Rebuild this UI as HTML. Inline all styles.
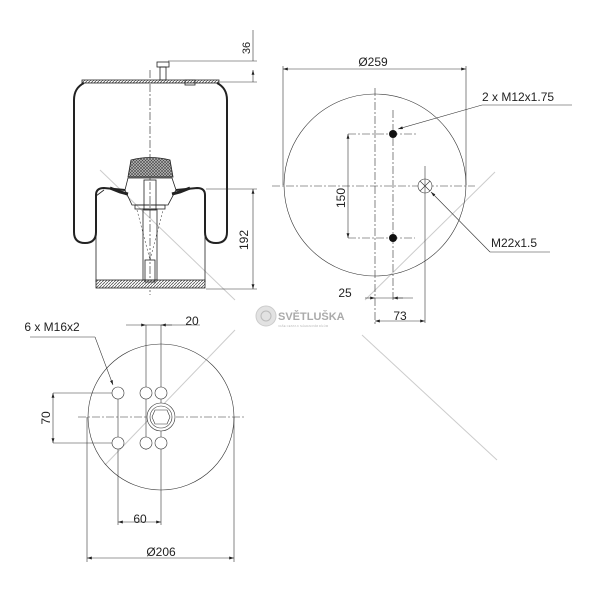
<!DOCTYPE html>
<html><head><meta charset="utf-8"><style>
html,body{margin:0;padding:0;background:#fff;}
svg{display:block;}
text{font-family:"Liberation Sans",sans-serif;fill:#222;}
</style></head><body>
<svg width="600" height="600" viewBox="0 0 600 600" xmlns="http://www.w3.org/2000/svg">
<defs>
<pattern id="h" width="3" height="3" patternUnits="userSpaceOnUse"><rect width="3" height="3" fill="#fff"/><path d="M0 3L3 0" stroke="#555" stroke-width="0.8"/></pattern>
<pattern id="x" width="3" height="3" patternUnits="userSpaceOnUse"><rect width="3" height="3" fill="#bbb"/><path d="M0 3L3 0M0 0L3 3" stroke="#444" stroke-width="0.6"/></pattern>
<marker id="a" viewBox="0 0 10 6" refX="10" refY="3" markerWidth="8" markerHeight="5" orient="auto-start-reverse"><path d="M0 0L10 3L0 6z" fill="#222"/></marker>
</defs>

<g stroke="#ccc" stroke-width="1">
<line x1="100" y1="170" x2="235" y2="300"/>
<line x1="495" y1="172" x2="365" y2="300"/>
<line x1="362" y1="335" x2="497" y2="460"/>
<line x1="235" y1="330" x2="105" y2="465"/>
</g>

<g stroke="#222" fill="none" stroke-width="0.8">
<line x1="150" y1="70" x2="150" y2="295" stroke-dasharray="8,2,2,2" stroke-width="0.6"/>
<rect x="82" y="80" width="137" height="3" fill="url(#h)"/>
<rect x="157" y="62" width="12" height="5" fill="#fff"/>
<rect x="160" y="67" width="6" height="13"/>
<rect x="185" y="80" width="10" height="5"/>
<path d="M84 83 Q74 88 74 100 L74 232 Q74 243 85 243 Q96 243 96 232 L96 195 Q96 188 104 188 L125 190" stroke-width="2"/>
<path d="M217 83 Q227 88 227 100 L227 232 Q227 243 216 243 Q205 243 205 232 L205 195 Q205 188 197 188 L176 190" stroke-width="2"/>
<path d="M104 190 L96 196 L96 282 M205 196 L205 282"/>
<rect x="96" y="280" width="109" height="8" fill="url(#h)"/>
<path d="M128 177 L131 160 Q150 155 170 160 L173 177 Z" fill="url(#x)"/>
<path d="M125 190 L128 178 L172 178 L176 190 L168 205 L132 205 Z"/>
<rect x="135" y="205" width="30" height="4"/>
<rect x="144" y="180" width="12" height="30"/>
<rect x="143" y="209" width="14" height="71"/>
<path d="M137 210 L150 260 L163 210" stroke-dasharray="2,2" stroke-width="0.5"/>
<rect x="145" y="260" width="10" height="22"/>
<path d="M110 188 L120 192 L128 194" stroke-width="3"/>
<path d="M190 188 L180 192 L172 194" stroke-width="3"/>
</g>
<g stroke="#333" stroke-width="0.6" fill="none">
<line x1="168" y1="61" x2="257" y2="61"/>
<line x1="220" y1="82" x2="257" y2="82"/>
<line x1="253" y1="30" x2="253" y2="61"/>
<line x1="253" y1="82" x2="253" y2="70" marker-end="url(#a)"/>
<line x1="206" y1="189" x2="257" y2="189"/>
<line x1="206" y1="289" x2="257" y2="289"/>
<line x1="253" y1="189" x2="253" y2="289" marker-start="url(#a)" marker-end="url(#a)"/>
</g>
<text x="0" y="0" font-size="11" transform="translate(253,48) rotate(-90)" text-anchor="middle" dy="-3">36</text>
<text x="0" y="0" font-size="12" transform="translate(251,240) rotate(-90)" text-anchor="middle" dy="-3">192</text>

<g stroke="#333" stroke-width="0.6" fill="none">
<circle cx="375" cy="185" r="91"/>
<line x1="283" y1="66" x2="283" y2="185"/>
<line x1="466" y1="66" x2="466" y2="185"/>
<line x1="283" y1="69" x2="466" y2="69" marker-start="url(#a)" marker-end="url(#a)"/>
<line x1="272" y1="186" x2="475" y2="186" stroke-dasharray="8,2,2,2"/>
<line x1="375" y1="88" x2="375" y2="325" stroke-dasharray="8,2,2,2"/>
<line x1="393" y1="110" x2="393" y2="300" stroke-dasharray="8,2,2,2"/>
<line x1="348" y1="134" x2="416" y2="134" stroke-dasharray="8,2,2,2"/>
<line x1="348" y1="238" x2="415" y2="238" stroke-dasharray="8,2,2,2"/>
<line x1="348" y1="134" x2="348" y2="238" marker-start="url(#a)" marker-end="url(#a)"/>
<circle cx="425" cy="186" r="7" fill="#fff"/>
<path d="M420 181 L430 191 M430 181 L420 191"/>
<line x1="425" y1="166" x2="425" y2="323"/>
<line x1="398" y1="129" x2="482" y2="105" marker-start="url(#a)"/>
<line x1="482" y1="105" x2="572" y2="105"/>
<line x1="431" y1="192" x2="490" y2="252" marker-start="url(#a)"/>
<line x1="490" y1="252" x2="550" y2="252"/>
<line x1="365" y1="298" x2="375" y2="298" marker-end="url(#a)"/>
<line x1="375" y1="298" x2="393" y2="298"/>
<line x1="403" y1="298" x2="393" y2="298" marker-end="url(#a)"/>
<line x1="393" y1="298" x2="413" y2="298"/>
<line x1="375" y1="321" x2="425" y2="321" marker-start="url(#a)" marker-end="url(#a)"/>
</g>
<circle cx="393" cy="134" r="4" fill="#111"/>
<circle cx="393" cy="238" r="4" fill="#111"/>
<text x="373" y="66" font-size="12" text-anchor="middle">Ø259</text>
<text x="482" y="101" font-size="12">2 x M12x1.75</text>
<text x="491" y="247" font-size="12">M22x1.5</text>
<text x="0" y="0" font-size="12" transform="translate(345,198) rotate(-90)" text-anchor="middle">150</text>
<text x="345" y="297" font-size="12" text-anchor="middle">25</text>
<text x="400" y="320" font-size="12" text-anchor="middle">73</text>

<circle cx="266" cy="316" r="10" fill="#e2e2e2" stroke="#ccc"/>
<circle cx="266" cy="316" r="5" fill="none" stroke="#bbb"/>
<text x="278" y="320" font-size="11" font-weight="bold" style="fill:#aaa">SVĚTLUŠKA</text>
<text x="278" y="327" font-size="3" style="fill:#bbb">VAŠE CESTA K NÁHRADNÍM DÍLŮM</text>

<g stroke="#333" stroke-width="0.6" fill="none">
<circle cx="161" cy="417" r="73"/>
<line x1="78" y1="417" x2="245" y2="417" stroke-dasharray="8,2,2,2"/>
<line x1="161" y1="325" x2="161" y2="525"/>
<line x1="146" y1="325" x2="146" y2="450"/>
<line x1="118" y1="393" x2="118" y2="525"/>
<line x1="53" y1="393" x2="118" y2="393"/>
<line x1="53" y1="443" x2="118" y2="443"/>
<line x1="53" y1="393" x2="53" y2="443" marker-start="url(#a)" marker-end="url(#a)"/>
<line x1="126" y1="325" x2="146" y2="325" marker-end="url(#a)"/>
<line x1="146" y1="325" x2="161" y2="325"/>
<line x1="172" y1="325" x2="161" y2="325" marker-end="url(#a)"/>
<line x1="161" y1="325" x2="200" y2="325"/>
<line x1="118" y1="522" x2="161" y2="522" marker-start="url(#a)" marker-end="url(#a)"/>
<line x1="87" y1="417" x2="87" y2="562"/>
<line x1="234" y1="417" x2="234" y2="562"/>
<line x1="87" y1="558" x2="234" y2="558" marker-start="url(#a)" marker-end="url(#a)"/>
<line x1="30" y1="337" x2="95" y2="337"/>
<line x1="95" y1="337" x2="113" y2="385" marker-end="url(#a)"/>
<circle cx="118" cy="393" r="6" fill="#fff"/>
<circle cx="146" cy="393" r="6" fill="#fff"/>
<circle cx="161" cy="393" r="6" fill="#fff"/>
<circle cx="118" cy="443" r="6" fill="#fff"/>
<circle cx="146" cy="443" r="6" fill="#fff"/>
<circle cx="161" cy="443" r="6" fill="#fff"/>
<circle cx="161" cy="417" r="14" fill="#fff"/>
<circle cx="161" cy="417" r="11"/>
<path d="M155 410 L167 410 L170 417 L167 424 L155 424 L152 417 Z"/>
</g>
<text x="52" y="331" font-size="12" text-anchor="middle">6 x M16x2</text>
<text x="192" y="325" font-size="12" text-anchor="middle">20</text>
<text x="0" y="0" font-size="12" transform="translate(50,418) rotate(-90)" text-anchor="middle">70</text>
<text x="140" y="523" font-size="12" text-anchor="middle">60</text>
<text x="161" y="556" font-size="12" text-anchor="middle">Ø206</text>
</svg>
</body></html>
